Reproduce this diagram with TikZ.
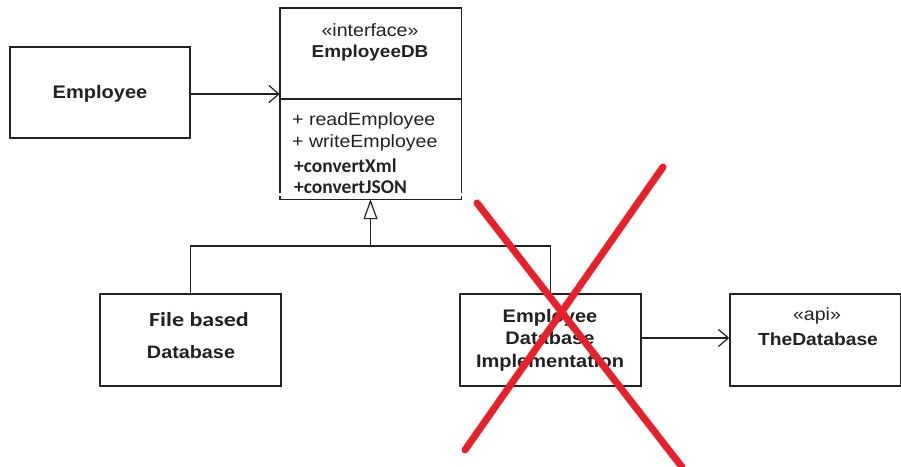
\documentclass[tikz,border=0pt]{standalone}
\usepackage{fontspec}
\setmainfont{Liberation Sans}[FakeStretch=1.1]
\newfontfamily\calib{Carlito}
\newfontfamily\calibwide{Carlito}[FakeStretch=1.2]
\usetikzlibrary{arrows.meta}
\definecolor{ink}{HTML}{222222}
\definecolor{crossred}{HTML}{E8202A}
\tikzset{
  umlbox/.style={draw=ink, line width=1.4pt, fill=white, inner sep=0pt},
  outline/.style={draw=ink, line width=1.4pt},
  lbl/.style={text=ink, inner sep=0pt, font=\fontsize{17.8}{20}\selectfont},
  blbl/.style={text=ink, inner sep=0pt, font=\fontsize{18}{20}\selectfont\bfseries},
  cblbl/.style={text=ink, inner sep=0pt, font=\fontsize{19.5}{21}\selectfont\calib\bfseries},
  assoc/.style={draw=ink, line width=1.2pt, -{Straight Barb[length=10pt,width=17pt,line width=1.2pt]}},
  gen/.style={draw=ink, line width=1.2pt},
  crossline/.style={draw=crossred, line width=7pt, line cap=round}
}
\begin{document}
\begin{tikzpicture}[x=1pt,y=-1pt]
\useasboundingbox (0,0) rectangle (901,466);
\clip (0,0) rectangle (901,466);

% Employee
\node[umlbox, minimum width=180pt, minimum height=91pt] (emp) at (100,92.5) {};
\node[blbl, font=\fontsize{18.2}{20}\selectfont\bfseries] (empT) at (100,94) {Employee};

% EmployeeDB interface with its operations compartment
\node[inner sep=0pt, minimum width=181pt, minimum height=191pt] (db) at (370.5,103.5) {};
\draw[outline] ([yshift=6pt]db.south west) -- (db.north west) -- (db.north east) -- ([yshift=6pt]db.south east);
\draw[outline] ([yshift=3pt]db.south west) -- (db.south west) -- (db.south east) -- ([yshift=3pt]db.south east);
\coordinate (divL) at (280,99);
\coordinate (divR) at (461,99);
\draw[outline, line width=1.2pt] (divL) -- (divR);
\node[lbl] (dbS) at (370,30) {«interface»};
\node[blbl, font=\fontsize{17.2}{19}\selectfont\bfseries] (dbT) at (370,53) {EmployeeDB};
\node[lbl, anchor=west] (op1) at (292,121) {+ readEmployee};
\node[lbl, anchor=west] (op2) at (292,143) {+ writeEmployee};
\node[cblbl, anchor=west] (op3) at (294,166) {+convertXml};
\node[cblbl, anchor=west] (op4) at (294,187) {+convertJSON};

% File based database
\node[umlbox, minimum width=181pt, minimum height=92pt] (fb) at (190.5,340) {};
\node[text=ink, inner sep=0pt, font=\fontsize{20}{22}\selectfont\calibwide\bfseries] (fbT1) at (199,320) {File based};
\node[blbl] (fbT2) at (191,352) {Database};

% Implementation
\node[umlbox, minimum width=181pt, minimum height=92pt] (impl) at (550.5,340) {};
\node[text=ink, inner sep=0pt, align=center, font=\fontsize{18.2}{22.5}\selectfont\bfseries] (implT) at (550,340) {Employee\\Database\\Implementation};

% External api
\node[umlbox, minimum width=171pt, minimum height=92pt] (api) at (815.5,340) {};
\node[lbl] (apiS) at (817,316) {«api»};
\node[blbl, font=\fontsize{17.5}{19}\selectfont\bfseries] (apiT) at (818,339) {TheDatabase};

% associations
\draw[assoc] (emp.east |- empT) -- (db.west |- empT);
\draw[assoc] (impl.east |- 0,338) -- (api.west |- 0,338);

% generalization
\coordinate (join) at (370.5,246);
\draw[gen] (fb.north) |- (join) -| (impl.north);
\draw[gen, -{Triangle[open, length=20pt, width=14pt, line width=1.2pt, fill=white]}] (join) -- (db.south);

% crossed out
\coordinate (x1a) at (477,203);
\coordinate (x1b) at (682,467);
\coordinate (x2a) at (663,167);
\coordinate (x2b) at (465,450);
\draw[crossline] (x1a) -- (x1b);
\draw[crossline] (x2a) -- (x2b);
\end{tikzpicture}
\end{document}
